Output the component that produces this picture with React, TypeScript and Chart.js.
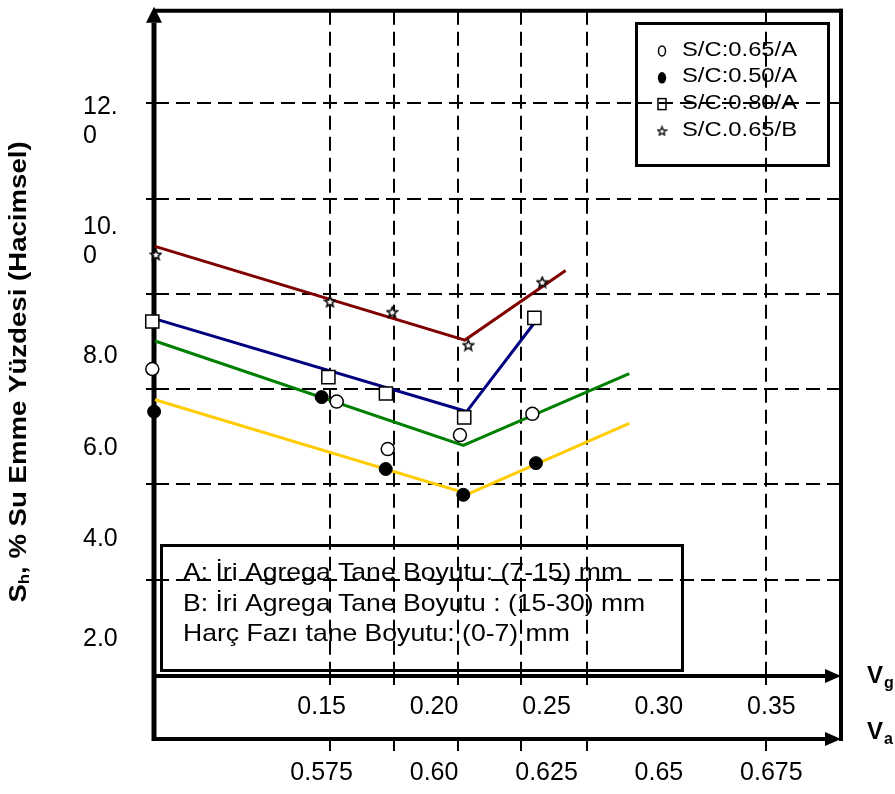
import React, { useEffect, useRef } from 'react';
import { Chart, registerables } from 'chart.js';

Chart.register(...registerables);

const FONT = "'Liberation Sans', Arial, sans-serif";

// ---- axis ticks / labels (Va = 0.5 + Vg / 2) ----
const vgTickLabels = ['0.15', '0.20', '0.25', '0.30', '0.35'];
const vgTickValues = [0.15, 0.2, 0.25, 0.3, 0.35];
const vaTickLabels = ['0.575', '0.60', '0.625', '0.65', '0.675'];
const vaTickValues = [0.575, 0.6, 0.625, 0.65, 0.675];
const gridX = [0.1537, 0.1822, 0.2107, 0.2387, 0.268, 0.3476];
const gridY = [3.075, 5.18, 7.286, 9.391, 11.499, 13.604];
const yTickLabels = ['2.0', '4.0', '6.0', '8.0', '10.0', '12.0'];
const yTickAt = [1.76, 3.96, 5.98, 8.02, 10.55, 13.2];

const legendLabels = ['S/C:0.65/A', 'S/C:0.50/A', 'S/C:0.80/A', 'S/C.0.65/B'];
const noteLines = [
  'A: İri Agrega Tane Boyutu: (7-15) mm',
  'B: İri Agrega Tane Boyutu : (15-30) mm',
  'Harç Fazı tane Boyutu: (0-7) mm',
];
const yTitleMain = 'S';
const yTitleSub = 'h';
const yTitleRest = ', % Su Emme Yüzdesi (Hacimsel)';

// ---- measured points ----
const sc065A_x = [0.0747, 0.1567, 0.1794, 0.2115, 0.2437];
const sc065A_y = [7.73, 7.01, 5.96, 6.27, 6.74];
const sc050A_x = [0.0755, 0.15, 0.1785, 0.213, 0.2453];
const sc050A_y = [6.79, 7.11, 5.52, 4.95, 5.65];
const sc080A_x = [0.0747, 0.153, 0.1786, 0.2134, 0.2446];
const sc080A_y = [8.78, 7.55, 7.19, 6.66, 8.86];
const sc065B_x = [0.0763, 0.1537, 0.1814, 0.2152, 0.2481];
const sc065B_y = [10.26, 9.22, 8.99, 8.26, 9.65];

// ---- trend lines ----
const trend065B_x = [0.0759, 0.2137, 0.2585];
const trend065B_y = [10.44, 8.37, 9.91];
const trend080A_x = [0.0759, 0.2145, 0.2449];
const trend080A_y = [8.84, 6.79, 8.77];
const trend065A_x = [0.0759, 0.213, 0.2868];
const trend065A_y = [8.35, 6.04, 7.63];
const trend050A_x = [0.0759, 0.2152, 0.2868];
const trend050A_y = [7.05, 4.97, 6.53];

const X_MIN = 0.0759;
const X_MAX = 0.3814;
const Y_MIN = 0.923;
const Y_MAX = 15.648;

const pts = (xs: number[], ys: number[]) => xs.map((x, i) => ({ x, y: ys[i] }));

function makeStar(size: number, lw: number) {
  const c = document.createElement('canvas');
  c.width = size;
  c.height = size;
  const g = c.getContext('2d')!;
  const cx = size / 2, cy = size / 2 + 0.5, R = size / 2 - 1, r = R * 0.45;
  g.beginPath();
  for (let i = 0; i < 10; i++) {
    const a = -Math.PI / 2 + (i * Math.PI) / 5;
    const rad = i % 2 === 0 ? R : r;
    g.lineTo(cx + rad * Math.cos(a), cy + rad * Math.sin(a));
  }
  g.closePath();
  g.fillStyle = '#fff';
  g.fill();
  g.lineWidth = lw;
  g.strokeStyle = '#000';
  g.stroke();
  return c;
}

function seg(ctx: any, x1: number, y1: number, x2: number, y2: number) {
  ctx.beginPath();
  ctx.moveTo(x1, y1);
  ctx.lineTo(x2, y2);
  ctx.stroke();
}

function tri(ctx: any, p: number[][]) {
  ctx.beginPath();
  ctx.moveTo(p[0][0], p[0][1]);
  ctx.lineTo(p[1][0], p[1][1]);
  ctx.lineTo(p[2][0], p[2][1]);
  ctx.closePath();
  ctx.fill();
}

function stretchText(ctx: any, text: string, x: number, y: number, font: string, sx: number) {
  ctx.save();
  ctx.font = font;
  ctx.translate(x, y);
  ctx.scale(sx, 1);
  ctx.textAlign = 'left';
  ctx.textBaseline = 'middle';
  ctx.fillText(text, 0, 0);
  ctx.restore();
}

const framePlugin = {
  id: 'frame',
  beforeDatasetsDraw(chart: any) {
    const { ctx, chartArea } = chart;
    const { left, right, top, bottom } = chartArea;
    const xs = chart.scales.x, ys = chart.scales.y;
    const axisX = left - 1;
    const vgY = bottom - 1;
    const vaY = bottom + 62;
    ctx.save();
    ctx.strokeStyle = '#000';
    ctx.fillStyle = '#000';
    ctx.lineWidth = 2;
    gridY.forEach((v) => {
      const p = Math.round(ys.getPixelForValue(v));
      seg(ctx, left - 9, p, left + 12, p);
    });
    gridX.forEach((v) => {
      const p = Math.round(xs.getPixelForValue(v));
      seg(ctx, p, vgY - 14, p, vgY + 9);
      seg(ctx, p, vaY, p, vaY + 12);
    });
    ctx.lineWidth = 4;
    seg(ctx, axisX, top, right, top);
    seg(ctx, right - 1, top - 2, right - 1, vaY + 2);
    // vertical axis with arrow
    ctx.lineWidth = 5;
    seg(ctx, axisX, vaY + 2, axisX, top + 12);
    tri(ctx, [[axisX, top - 4], [axisX - 8, top + 12], [axisX + 8, top + 12]]);
    // Vg axis
    ctx.lineWidth = 4;
    seg(ctx, left, vgY, right - 16, vgY);
    tri(ctx, [[right - 1, vgY], [right - 17, vgY - 7], [right - 17, vgY + 7]]);
    // Va axis
    seg(ctx, left, vaY, right - 16, vaY);
    tri(ctx, [[right - 1, vaY], [right - 17, vaY - 7], [right - 17, vaY + 7]]);
    ctx.restore();
  },
  afterDraw(chart: any) {
    const { ctx, chartArea } = chart;
    const { left, right, bottom } = chartArea;
    const xs = chart.scales.x, xa = chart.scales.xa, ys = chart.scales.y;
    const vgY = bottom - 1;
    const vaY = bottom + 62;
    ctx.save();
    ctx.fillStyle = '#000';
    ctx.strokeStyle = '#000';

    // y tick labels (wrapped like the original)
    ctx.font = `25px ${FONT}`;
    ctx.textAlign = 'left';
    ctx.textBaseline = 'middle';
    yTickLabels.forEach((lab, i) => {
      const py = ys.getPixelForValue(yTickAt[i]);
      const lines = lab.length > 3 ? [lab.slice(0, 3), lab.slice(3)] : [lab];
      lines.forEach((t, k) => ctx.fillText(t, left - 72, py + (k - (lines.length - 1) / 2) * 29));
    });

    // x tick labels
    ctx.font = `25px ${FONT}`;
    ctx.textAlign = 'center';
    vgTickValues.forEach((v, i) => ctx.fillText(vgTickLabels[i], xs.getPixelForValue(v), bottom + 30));
    vaTickValues.forEach((v, i) => ctx.fillText(vaTickLabels[i], xa.getPixelForValue(v), bottom + 96));

    // axis names
    ctx.textAlign = 'left';
    ctx.font = `bold 24px ${FONT}`;
    ctx.fillText('V', right + 25, vgY);
    ctx.fillText('V', right + 25, vaY - 7);
    ctx.font = `bold 16px ${FONT}`;
    ctx.fillText('g', right + 42, vgY + 8);
    ctx.fillText('a', right + 42, vaY + 1);

    // y title
    ctx.save();
    ctx.translate(20, 372);
    ctx.rotate(-Math.PI / 2);
    ctx.scale(1.2, 1);
    ctx.textBaseline = 'middle';
    ctx.textAlign = 'left';
    const fBig = `bold 23px ${FONT}`;
    const fSmall = `bold 14px ${FONT}`;
    ctx.font = fBig;
    const w1 = ctx.measureText(yTitleMain).width;
    const w3 = ctx.measureText(yTitleRest).width;
    ctx.font = fSmall;
    const w2 = ctx.measureText(yTitleSub).width;
    let x0 = -(w1 + w2 + w3) / 2;
    ctx.font = fBig;
    ctx.fillText(yTitleMain, x0, 0);
    x0 += w1;
    ctx.font = fSmall;
    ctx.fillText(yTitleSub, x0, 5);
    x0 += w2;
    ctx.font = fBig;
    ctx.fillText(yTitleRest, x0, 0);
    ctx.restore();

    // legend
    ctx.lineWidth = 3;
    ctx.strokeRect(636.5, 23.5, 192, 142);
    const star = makeStar(11, 1.3);
    const labels = chart.data.datasets.slice(0, 4).map((d: any) => d.label);
    labels.forEach((lab: string, i: number) => {
      const cy = 50 + i * 26.8;
      const mx = 662;
      ctx.lineWidth = 1.5;
      if (i === 0) {
        ctx.beginPath();
        ctx.ellipse(mx, cy + 1, 3.5, 5, 0, 0, Math.PI * 2);
        ctx.stroke();
      } else if (i === 1) {
        ctx.beginPath();
        ctx.ellipse(mx, cy + 1, 4.2, 5.8, 0, 0, Math.PI * 2);
        ctx.fill();
      } else if (i === 2) {
        ctx.strokeRect(mx - 4, cy - 5, 8, 11);
      } else {
        ctx.drawImage(star, mx - 5.5, cy - 5);
      }
      stretchText(ctx, lab, 682, cy, `20px ${FONT}`, 1.19);
    });

    // note box
    ctx.lineWidth = 3;
    ctx.strokeRect(161.5, 545.5, 521, 125);
    noteLines.forEach((t, i) => stretchText(ctx, t, 183, 573.5 + i * 30.5, `24px ${FONT}`, 1.107));

    ctx.restore();
  },
};

export default function App() {
  const ref = useRef<HTMLCanvasElement>(null);
  useEffect(() => {
    const canvas = ref.current!;
    const starImg = makeStar(13, 1.5);
    const gridOpts = { color: '#000', lineWidth: 2, drawTicks: false };
    const borderOpts = { display: false, dash: [14, 7] };
    const chart = new Chart(canvas, {
      type: 'scatter',
      data: {
        datasets: [
          {
            label: legendLabels[0], data: pts(sc065A_x, sc065A_y), showLine: false, clip: false, order: 1,
            pointStyle: 'circle', pointRadius: 6.5, pointBorderWidth: 1.5, pointBorderColor: '#000', pointBackgroundColor: '#fff',
          },
          {
            label: legendLabels[1], data: pts(sc050A_x, sc050A_y), showLine: false, clip: false, order: 1,
            pointStyle: 'circle', pointRadius: 6.5, pointBorderWidth: 1, pointBorderColor: '#000', pointBackgroundColor: '#000',
          },
          {
            label: legendLabels[2], data: pts(sc080A_x, sc080A_y), showLine: false, clip: false, order: 1,
            pointStyle: 'rect', pointRadius: 9.3, pointBorderWidth: 1.5, pointBorderColor: '#000', pointBackgroundColor: '#fff',
          },
          {
            label: legendLabels[3], data: pts(sc065B_x, sc065B_y), showLine: false, clip: false, order: 1,
            pointStyle: starImg, pointRadius: 6,
          },
          {
            label: 'trend B 0.65', data: pts(trend065B_x, trend065B_y), showLine: true, pointRadius: 0,
            borderColor: '#800000', borderWidth: 3, order: 2, clip: false,
          },
          {
            label: 'trend A 0.80', data: pts(trend080A_x, trend080A_y), showLine: true, pointRadius: 0,
            borderColor: '#000080', borderWidth: 3, order: 2, clip: false,
          },
          {
            label: 'trend A 0.65', data: pts(trend065A_x, trend065A_y), showLine: true, pointRadius: 0,
            borderColor: '#008000', borderWidth: 3, order: 2, clip: false,
          },
          {
            label: 'trend A 0.50', data: pts(trend050A_x, trend050A_y), showLine: true, pointRadius: 0,
            borderColor: '#FFCC00', borderWidth: 3, order: 2, clip: false,
          },
        ],
      },
      options: {
        responsive: false,
        animation: false,
        events: [],
        layout: { padding: { left: 155, right: 53, top: 7, bottom: 117 } },
        plugins: { legend: { display: false }, tooltip: { enabled: false } },
        scales: {
          x: {
            type: 'linear', min: X_MIN, max: X_MAX,
            grid: gridOpts, border: borderOpts, ticks: { display: false },
            afterBuildTicks: (s: any) => { s.ticks = gridX.map((value) => ({ value })); },
          },
          xa: {
            type: 'linear', axis: 'x', position: 'bottom', display: false,
            min: 0.5 + X_MIN / 2, max: 0.5 + X_MAX / 2,
          },
          y: {
            type: 'linear', min: Y_MIN, max: Y_MAX,
            grid: gridOpts, border: borderOpts, ticks: { display: false },
            afterBuildTicks: (s: any) => { s.ticks = gridY.map((value) => ({ value })); },
          },
        },
      } as any,
      plugins: [framePlugin],
    } as any);
    return () => chart.destroy();
  }, []);
  return (
    <div style={{ position: 'absolute', left: 0, top: 0, width: 895, height: 794, background: '#fff' }}>
      <canvas ref={ref} width={895} height={794} style={{ display: 'block', width: 895, height: 794 }} />
    </div>
  );
}
